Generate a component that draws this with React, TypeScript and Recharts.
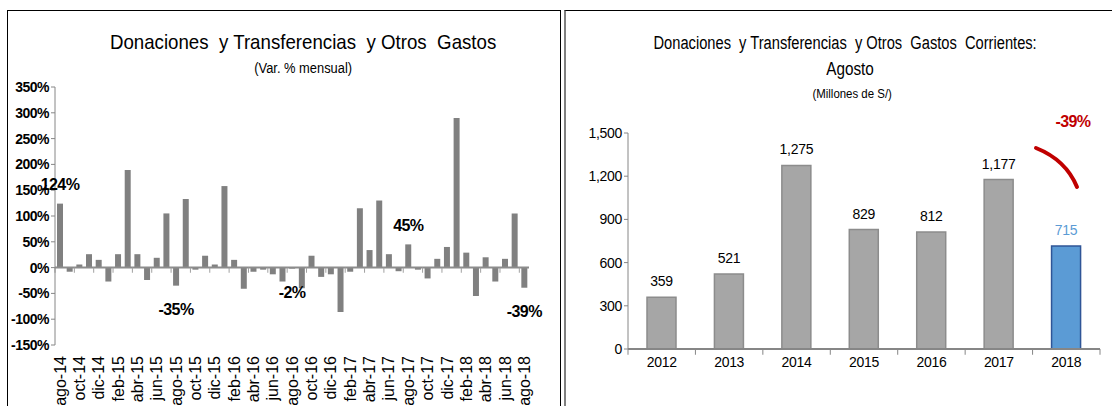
import { BarChart, Bar, Cell, XAxis, YAxis, ReferenceLine, LabelList } from "recharts";

const NARROW = '"Liberation Sans Narrow", "Arial Narrow", "Liberation Sans", Arial, sans-serif';
const SANS = '"Liberation Sans", Arial, sans-serif';

// Var. % mensual, ago-14 .. ago-18
const meses = [
  "ago-14", "sep-14", "oct-14", "nov-14", "dic-14", "ene-15", "feb-15", "mar-15", "abr-15", "may-15",
  "jun-15", "jul-15", "ago-15", "sep-15", "oct-15", "nov-15", "dic-15", "ene-16", "feb-16", "mar-16",
  "abr-16", "may-16", "jun-16", "jul-16", "ago-16", "sep-16", "oct-16", "nov-16", "dic-16", "ene-17",
  "feb-17", "mar-17", "abr-17", "may-17", "jun-17", "jul-17", "ago-17", "sep-17", "oct-17", "nov-17",
  "dic-17", "ene-18", "feb-18", "mar-18", "abr-18", "may-18", "jun-18", "jul-18", "ago-18",
];
const varMensual = [
  124, -8, 6, 26, 15, -27, 26, 189, 26, -24,
  19, 105, -35, 133, -4, 23, 6, 158, 15, -41,
  -8, -4, -13, -27, -2, -40, 23, -18, -13, -86,
  -8, 115, 34, 130, 26, -7, 45, -4, -21, 17,
  40, 290, 29, -55, 20, -27, 17, 105, -39,
];
const etiquetas: Record<string, string> = {
  "ago-14": "124%",
  "ago-15": "-35%",
  "ago-16": "-2%",
  "ago-17": "45%",
  "ago-18": "-39%",
};
const pctTicks = [-150, -100, -50, 0, 50, 100, 150, 200, 250, 300, 350];

// Agosto, millones de S/
const anios = ["2012", "2013", "2014", "2015", "2016", "2017", "2018"];
const agosto = [359, 521, 1275, 829, 812, 1177, 715];
const millonesTicks = [0, 300, 600, 900, 1200, 1500];
const variacion = "-39%";

const mensualData = meses.map((m, i) => ({ mes: m, valor: varMensual[i] }));
const agostoData = anios.map((a, i) => ({ anio: a, valor: agosto[i] }));

const fmtMiles = (v: number) => v.toLocaleString("en-US");

function MonthTick({ x, y, payload }: any) {
  const ty = y + 3;
  return (
    <text
      x={x}
      y={ty}
      transform={`rotate(-90, ${x}, ${ty})`}
      textAnchor="end"
      dy="0.36em"
      fontSize={16}
      fontFamily={SANS}
      fill="#000"
    >
      {payload.value}
    </text>
  );
}

function PctLabel(props: any) {
  const { x, y, width, height, index } = props;
  const text = etiquetas[meses[index]];
  if (!text) return null;
  const top = Math.min(y, y + height);
  const bottom = Math.max(y, y + height);
  const cy = varMensual[index] >= 0 ? top - 19 : bottom + 24;
  return (
    <text
      x={x + width / 2}
      y={cy}
      textAnchor="middle"
      dominantBaseline="central"
      fontSize={16}
      fontWeight="bold"
      letterSpacing={-0.6}
      fontFamily={NARROW}
      fill="#000"
    >
      {text}
    </text>
  );
}

function AgostoLabel(props: any) {
  const { x, y, width, index, value } = props;
  const last = index === agosto.length - 1;
  return (
    <text
      x={x + width / 2}
      y={y - 16}
      textAnchor="middle"
      dominantBaseline="central"
      fontSize={14}
      letterSpacing={-0.3}
      fontFamily={NARROW}
      fill={last ? "#5B9BD5" : "#000"}
    >
      {fmtMiles(value)}
    </text>
  );
}

function Title({ left, width, top, size, scale, children }: any) {
  return (
    <div style={{ position: "absolute", left, width, top, textAlign: "center", whiteSpace: "pre" }}>
      <span
        style={{
          display: "inline-block",
          fontFamily: NARROW,
          fontSize: size,
          transform: `scaleX(${scale})`,
          transformOrigin: "center",
        }}
      >
        {children}
      </span>
    </div>
  );
}

export default function App() {
  return (
    <div style={{ position: "absolute", left: 0, top: 0, width: 1112, height: 406, overflow: "hidden", background: "#fff" }}>
      {/* panel frames */}
      <div
        style={{
          position: "absolute",
          left: 7,
          top: 10,
          width: 552,
          height: 420,
          borderTop: "1.5px solid #000",
          borderLeft: "1.5px solid #000",
          borderRight: "1.5px solid #000",
        }}
      />
      <div
        style={{
          position: "absolute",
          left: 564,
          top: 10,
          width: 560,
          height: 420,
          borderTop: "1.5px solid #000",
          borderLeft: "2px solid #808080",
        }}
      />

      <Title left={0} width={606} top={30} size={21} scale={0.89}>
        {"Donaciones  y Transferencias  y Otros  Gastos"}
      </Title>
      <Title left={0} width={606} top={59} size={14} scale={0.92}>
        (Var. % mensual)
      </Title>

      <Title left={560} width={570} top={33} size={18} scale={0.815}>
        {"Donaciones  y Transferencias  y Otros  Gastos  Corrientes:"}
      </Title>
      <Title left={560} width={580} top={59} size={18} scale={0.85}>
        Agosto
      </Title>
      <Title left={560} width={585} top={84} size={13} scale={0.88}>
        (Millones de S/)
      </Title>

      <div style={{ position: "absolute", left: 0, top: 0 }}>
        <BarChart width={560} height={406} data={mensualData} margin={{ top: 87, right: 31, left: 0, bottom: 0 }} barCategoryGap={2}>
          <XAxis
            dataKey="mes"
            interval={1}
            height={61}
            axisLine={false}
            tickLine={false}
            tick={<MonthTick />}
          />
          <YAxis
            width={55}
            domain={[-150, 350]}
            ticks={pctTicks}
            allowDataOverflow
            tickFormatter={(v: number) => `${v}%`}
            stroke="#868686"
            tickSize={4}
            tick={{ fontSize: 14, fontWeight: "bold", fill: "#000", fontFamily: NARROW, letterSpacing: -0.5 }}
          />
          <ReferenceLine y={0} stroke="#8c8c8c" strokeWidth={2} />
          {meses
            .filter((_, i) => i % 2 === 0)
            .map((m) => (
              <ReferenceLine
                key={m}
                segment={[{ x: m, y: 0 }, { x: m, y: -10 }]}
                position="start"
                stroke="#a0a0a0"
                strokeWidth={1}
              />
            ))}
          <Bar dataKey="valor" fill="#808080" barSize={6} isAnimationActive={false}>
            <LabelList dataKey="valor" content={<PctLabel />} />
          </Bar>
        </BarChart>
      </div>

      <div style={{ position: "absolute", left: 560, top: 0 }}>
        <BarChart width={552} height={406} data={agostoData} margin={{ top: 133, right: 12, left: 0, bottom: 27 }}>
          <XAxis
            dataKey="anio"
            height={30}
            stroke="#868686"
            strokeWidth={2}
            tickLine={false}
            tick={{ fontSize: 14, fill: "#000", fontFamily: NARROW, letterSpacing: -0.3 }}
          />
          <YAxis
            width={68}
            domain={[0, 1500]}
            ticks={millonesTicks}
            tickFormatter={fmtMiles}
            stroke="#868686"
            tickSize={4}
            tick={{ fontSize: 14, fill: "#000", fontFamily: NARROW, letterSpacing: -0.3 }}
          />
          {anios.map((a) => (
            <ReferenceLine
              key={a}
              segment={[{ x: a, y: 0 }, { x: a, y: -40 }]}
              position="start"
              ifOverflow="visible"
              stroke="#868686"
              strokeWidth={1}
            />
          ))}
          <ReferenceLine
            segment={[{ x: anios[anios.length - 1], y: 0 }, { x: anios[anios.length - 1], y: -40 }]}
            position="end"
            ifOverflow="visible"
            stroke="#868686"
            strokeWidth={1}
          />
          <Bar dataKey="valor" barSize={29} isAnimationActive={false}>
            {agostoData.map((d, i) => (
              <Cell
                key={d.anio}
                fill={i === agostoData.length - 1 ? "#5B9BD5" : "#A6A6A6"}
                stroke={i === agostoData.length - 1 ? "#2F5597" : "#8C8C8C"}
                strokeWidth={1.5}
              />
            ))}
            <LabelList dataKey="valor" content={<AgostoLabel />} />
          </Bar>
        </BarChart>
      </div>

      {/* -39% annotation */}
      <svg width={1112} height={406} style={{ position: "absolute", left: 0, top: 0, pointerEvents: "none" }}>
        <path d="M1036,148 Q1066,160 1077,187" fill="none" stroke="#C00000" strokeWidth={4} strokeLinecap="round" />
        <text x={1073} y={121} textAnchor="middle" dominantBaseline="central" fontSize={16} fontWeight="bold" letterSpacing={-0.6} fontFamily={NARROW} fill="#C00000">
          {variacion}
        </text>
      </svg>
    </div>
  );
}
